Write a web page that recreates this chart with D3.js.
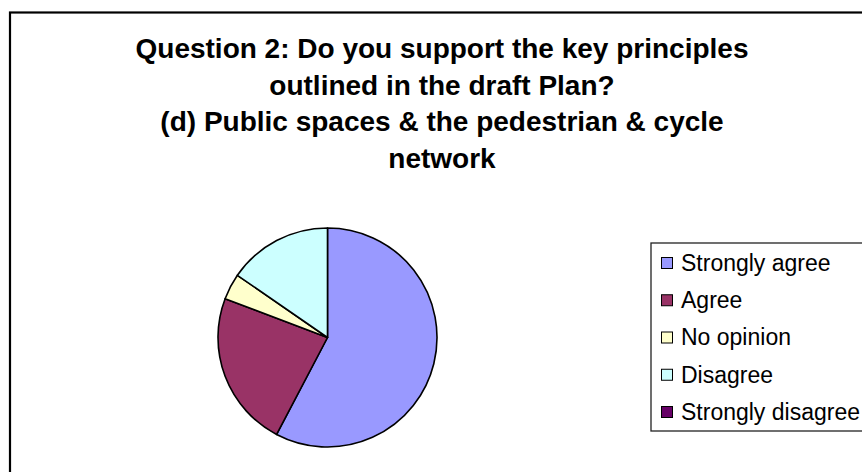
<!DOCTYPE html>
<html>
<head>
<meta charset="utf-8">
<script src="https://cdn.jsdelivr.net/npm/d3@7"></script>
<style>
  html, body { margin: 0; padding: 0; background: #fff; }
  svg { display: block; font-family: "Liberation Sans", Arial, sans-serif; }
</style>
</head>
<body>
<svg id="chart" width="862" height="472"></svg>
<script>
// Survey responses for Question 2 (d)
const categories = ["Strongly agree", "Agree", "No opinion", "Disagree", "Strongly disagree"];
const responses = [15, 6, 1, 4, 0];
const sliceColors = ["#9999FF", "#993366", "#FFFFCC", "#CCFFFF", "#660066"];
const titleLines = [
  "Question 2: Do you support the key principles",
  "outlined in the draft Plan?",
  "(d) Public spaces & the pedestrian & cycle",
  "network"
];

const svg = d3.select("#chart");
const W = 862, H = 472;

// Chart area frame (runs off the right and bottom edges)
svg.append("rect")
  .attr("x", 10).attr("y", 12.5)
  .attr("width", W + 20).attr("height", H + 20)
  .attr("fill", "#fff")
  .attr("stroke", "#000")
  .attr("stroke-width", 2.2);

// Title
const title = svg.append("text")
  .attr("text-anchor", "middle")
  .attr("font-weight", "bold")
  .attr("font-size", 28)
  .attr("fill", "#000");
title.selectAll("tspan")
  .data(titleLines)
  .join("tspan")
  .attr("x", 442)
  .attr("y", (d, i) => 58 + i * 36.7)
  .text(d => d);

// Pie
const cx = 327.5, cy = 337.5, radius = 109.5;
const color = d3.scaleOrdinal().domain(categories).range(sliceColors);
const pie = d3.pie().sort(null).value(d => d.value);
const arc = d3.arc().innerRadius(0).outerRadius(radius);
const pieData = pie(categories.map((c, i) => ({ name: c, value: responses[i] })));

svg.append("g")
  .attr("transform", `translate(${cx},${cy})`)
  .selectAll("path")
  .data(pieData.filter(d => d.value > 0))
  .join("path")
  .attr("d", arc)
  .attr("fill", d => color(d.data.name))
  .attr("stroke", "#000")
  .attr("stroke-width", 1.6)
  .attr("stroke-linejoin", "round");

// Legend
const legend = svg.append("g");
legend.append("rect")
  .attr("x", 651).attr("y", 243)
  .attr("width", 260).attr("height", 188)
  .attr("fill", "#fff")
  .attr("stroke", "#222")
  .attr("stroke-width", 1.3);

const rowY = d3.scalePoint().domain(categories).range([263, 412]);
const rows = legend.selectAll("g.item")
  .data(categories)
  .join("g")
  .attr("class", "item")
  .attr("transform", d => `translate(0,${rowY(d)})`);
rows.append("rect")
  .attr("x", 661.5).attr("y", -5.5)
  .attr("width", 11).attr("height", 11)
  .attr("fill", d => color(d))
  .attr("stroke", "#000")
  .attr("stroke-width", 1);
rows.append("text")
  .attr("x", 681).attr("y", 7.8)
  .attr("font-size", 23)
  .attr("fill", "#000")
  .text(d => d);
</script>
</body>
</html>
